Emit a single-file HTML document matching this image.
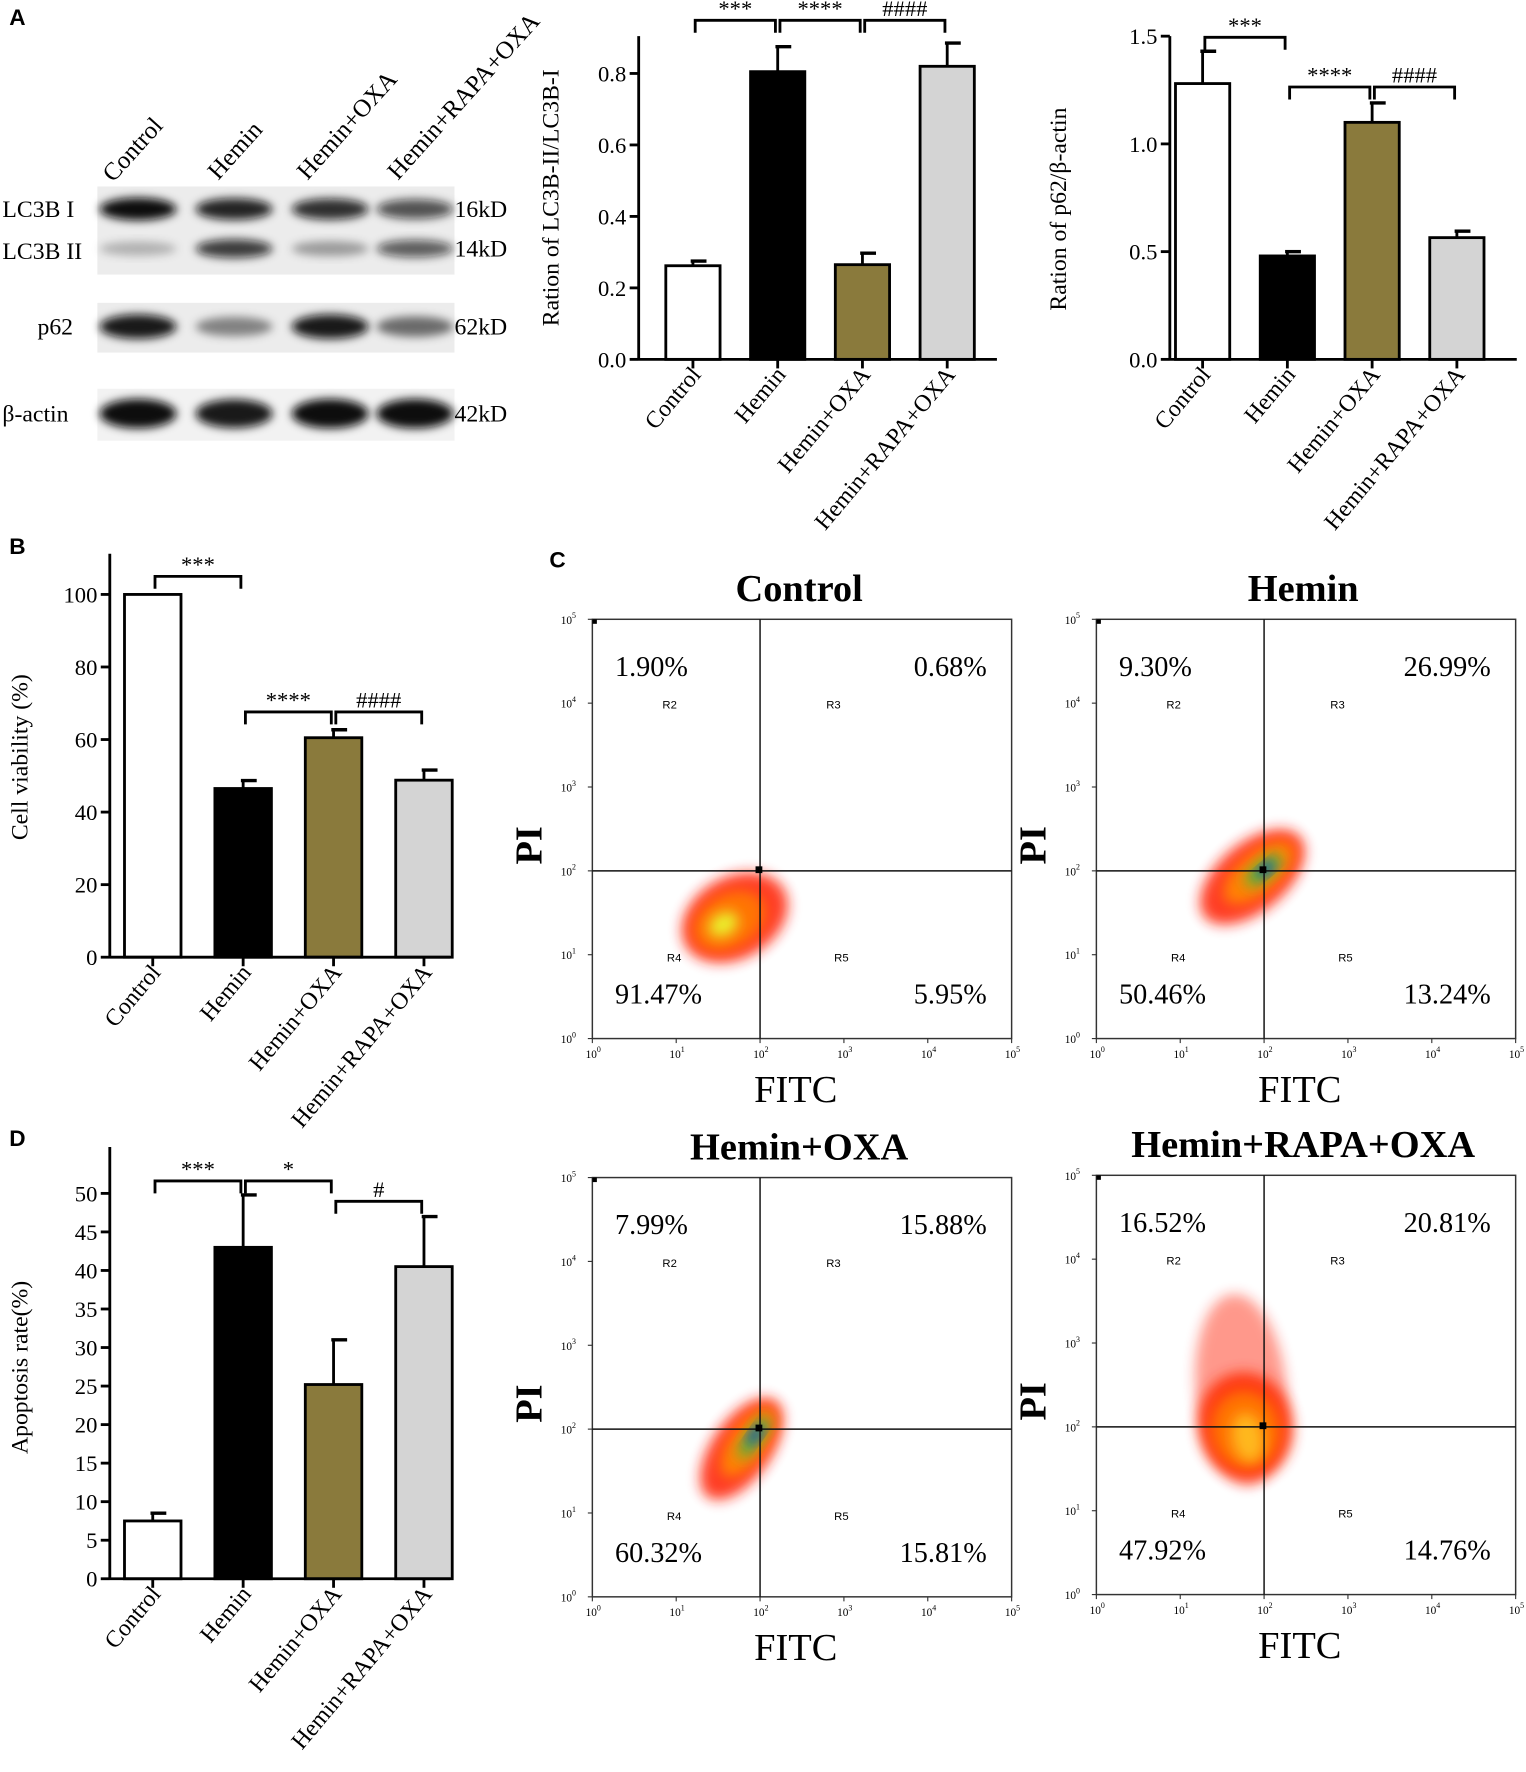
<!DOCTYPE html>
<html><head><meta charset="utf-8"><style>
html,body{margin:0;padding:0;background:#fff}
svg{display:block}
text{font-family:"Liberation Serif",serif;fill:#000}
.sans{font-family:"Liberation Sans",sans-serif;font-weight:bold}
</style></head><body>
<svg id="fig" width="1526" height="1772" viewBox="0 0 1350 1568" xmlns="http://www.w3.org/2000/svg">
<defs>
<filter id="blur" x="-50%" y="-50%" width="200%" height="200%"><feGaussianBlur stdDeviation="4"/></filter>
<filter id="blur2" x="-50%" y="-50%" width="200%" height="200%"><feGaussianBlur stdDeviation="6"/></filter>
</defs>
<g id="root"></g>
</svg>
<script>
// ---- data ----
const groups = ["Control","Hemin","Hemin+OXA","Hemin+RAPA+OXA"];
const lc3Values = [0.262,0.805,0.265,0.82];
const lc3Errors = [0.013,0.07,0.032,0.065];
const lc3Ticks = [0,0.2,0.4,0.6,0.8];
const p62Values = [1.28,0.48,1.10,0.565];
const p62Errors = [0.15,0.02,0.09,0.03];
const p62Ticks = [0,0.5,1.0,1.5];
const viabValues = [100,46.5,60.5,48.8];
const viabErrors = [0,2.2,2.2,2.8];
const viabTicks = [0,20,40,60,80,100];
const apopValues = [7.5,43,25.2,40.5];
const apopErrors = [1,6.8,5.8,6.5];
const apopTicks = [0,5,10,15,20,25,30,35,40,45,50];
const barColors = ["#ffffff","#000000","#8a7a3c","#d4d4d4"];
const flowTitles = ["Control","Hemin","Hemin+OXA","Hemin+RAPA+OXA"];
const flowUL = ["1.90%","9.30%","7.99%","16.52%"];
const flowUR = ["0.68%","26.99%","15.88%","20.81%"];
const flowLL = ["91.47%","50.46%","60.32%","47.92%"];
const flowLR = ["5.95%","13.24%","15.81%","14.76%"];

const NS="http://www.w3.org/2000/svg";
const root=document.getElementById('root');
function mk(tag,attrs,parent,txt){const e=document.createElementNS(NS,tag);for(const k in attrs)e.setAttribute(k,attrs[k]);if(txt!==undefined)e.textContent=txt;(parent||root).appendChild(e);return e;}

[["A",8,22],["B",8,490],["C",486,502],["D",8,1014]].forEach(l=>{
  const t=mk('text',{x:l[1],y:l[2],class:'sans','font-size':20},root,l[0]);
  
  
});

// ---- western blot ----
(function(){
  const g=mk('g',{});
  
  
  const lanes=[122,207,292,367];
  const laneLab=[[100,162],[193,160],[272,160],[352,160]];
  groups.forEach((n,i)=>{const t=mk('text',{x:laneLab[i][0],y:laneLab[i][1],'font-size':22,transform:`rotate(-48 ${laneLab[i][0]} ${laneLab[i][1]})`},g,n);
    });
  mk('rect',{x:86,y:165,width:316,height:78,fill:'#ececec'},g);
  mk('rect',{x:86,y:268,width:316,height:44,fill:'#ececec'},g);
  mk('rect',{x:86,y:344,width:316,height:46,fill:'#f2f2f2'},g);
  const rows=[[185,[1,0.9,0.85,0.7],10],[220,[0.25,0.8,0.35,0.65],9],[289,[0.95,0.45,0.95,0.55],11],[366,[1,0.95,1,1],13]];
  rows.forEach(r=>lanes.forEach((x,i)=>{const a=r[1][i];mk('ellipse',{cx:x,cy:r[0],rx:34,ry:r[2]*(0.6+0.4*a),fill:`rgba(10,10,10,${a})`,filter:'url(#blur)'},g);}));
  [["LC3B I",2,192],["LC3B II",2,229],["p62",33,296],["β-actin",2,373]].forEach(l=>mk('text',{x:l[1],y:l[2],'font-size':21},g,l[0]));
  [["16kD",192],["14kD",227],["62kD",296],["42kD",373]].forEach(l=>mk('text',{x:402,y:l[1],'font-size':21},g,l[0]));
})();

function barChart(o){
  const g=mk('g',{});
  
  
  const y=v=>o.y0-(v-0)*(o.y0-o.yTopVal)/o.topVal;
  const x=i=>o.x0+i*o.step;
  o.values.forEach((v,i)=>{
    const r=mk('rect',{x:x(i)-o.bw/2,y:y(v),width:o.bw,height:o.y0-y(v),fill:barColors[i],stroke:'#000','stroke-width':2.5},g);
    
    
    const e=o.errors[i];
    if(e>0){
      mk('line',{x1:x(i),x2:x(i),y1:y(v),y2:y(v+e),stroke:'#000','stroke-width':2.5},g);
      mk('line',{x1:x(i)-2,x2:x(i)+12,y1:y(v+e),y2:y(v+e),stroke:'#000','stroke-width':3},g);
    }
  });
  const ya=mk('line',{x1:o.ax,x2:o.ax,y1:o.axTop,y2:o.y0+1,stroke:'#000','stroke-width':2.5},g);
  
  const xa=mk('line',{x1:o.ax,x2:o.axRight,y1:o.y0,y2:o.y0,stroke:'#000','stroke-width':2.5},g);
  
  o.ticks.forEach(t=>{
    mk('line',{x1:o.ax-8,x2:o.ax,y1:y(t),y2:y(t),stroke:'#000','stroke-width':2.5},g);
    const tl=mk('text',{x:o.ax-11,y:y(t)+7,'text-anchor':'end','font-size':20},g,o.fmt(t));
    
  });
  groups.forEach((n,i)=>{
    mk('line',{x1:x(i),x2:x(i),y1:o.y0,y2:o.y0+8,stroke:'#000','stroke-width':2.5},g);
    const lx=x(i)+8,ly=o.y0+14;
    const tl=mk('text',{x:lx,y:ly,'text-anchor':'end','font-size':21,transform:`rotate(-50 ${lx} ${ly})`},g,n);
    
  });
  const tt=mk('text',{x:o.titleX,y:o.titleY,'text-anchor':'middle','font-size':21,transform:`rotate(-90 ${o.titleX} ${o.titleY})`},g,o.title);
  
  o.brackets.forEach(b=>{
    const x1=x(b[0])+2,x2=x(b[1])-2,by=b[2];
    mk('path',{d:`M${x1} ${by+11}V${by}H${x2}V${by+11}`,fill:'none',stroke:'#000','stroke-width':2.5},g);
    const st=mk('text',{x:(x1+x2)/2,y:by-4,'text-anchor':'middle','font-size':20},g,b[3]);
    
  });
}
barChart({name:'lc3b-ratio-chart',values:lc3Values,errors:lc3Errors,ticks:lc3Ticks,fmt:t=>t.toFixed(1),
  x0:613,step:75,bw:48,ax:565,axTop:32,axRight:882,y0:318,topVal:0.8,yTopVal:65,
  title:'Ration of LC3B-II/LC3B-I',titleX:494,titleY:175,
  brackets:[[0,1,18,'***'],[1,2,18,'****'],[2,3,18,'####']]});
barChart({name:'p62-ratio-chart',values:p62Values,errors:p62Errors,ticks:p62Ticks,fmt:t=>t.toFixed(1),
  x0:1064,step:75,bw:48,ax:1035,axTop:32,axRight:1342,y0:318,topVal:1.5,yTopVal:32,
  title:'Ration of p62/β-actin',titleX:943,titleY:185,
  brackets:[[0,1,33,'***'],[1,2,77,'****'],[2,3,77,'####']]});
barChart({name:'cell-viability-chart',values:viabValues,errors:viabErrors,ticks:viabTicks,fmt:t=>String(t),
  x0:135,step:80,bw:50,ax:97,axTop:490,axRight:398,y0:847,topVal:100,yTopVal:526,
  title:'Cell viability (%)',titleX:24,titleY:670,
  brackets:[[0,1,510,'***'],[1,2,630,'****'],[2,3,630,'####']]});
barChart({name:'apoptosis-rate-chart',values:apopValues,errors:apopErrors,ticks:apopTicks,fmt:t=>String(t),
  x0:135,step:80,bw:50,ax:97,axTop:1015,axRight:398,y0:1397,topVal:50,yTopVal:1056,
  title:'Apoptosis rate(%)',titleX:24,titleY:1210,
  brackets:[[0,1,1045,'***'],[1,2,1045,'*'],[2,3,1063,'#']]});

const flowPos=[[524,548],[970,548],[524,1042],[970,1040]];
const clouds=[
 [[650,812,50,36,-30,'#ff1a00',0.85],[645,815,34,24,-30,'#ff7a00',0.9],[640,818,14,10,-30,'#e8ff30',0.9]],
 [[1108,776,55,30,-40,'#ff1a00',0.85],[1114,772,38,18,-40,'#ff8a00',0.9],[1118,770,20,8,-40,'#40c040',0.9],[1120,769,9,4,-40,'#1030d0',1]],
 [[656,1282,52,26,-55,'#ff1a00',0.85],[662,1276,36,16,-55,'#ff8a00',0.9],[667,1272,22,7,-55,'#40c040',0.9],[668,1270,10,4,-55,'#1030d0',1]],
 [[1098,1230,40,85,-5,'#ff1a00',0.45],[1102,1262,42,48,-10,'#ff2a00',0.85],[1102,1265,30,34,-10,'#ff7a00',0.9],[1104,1272,14,22,-10,'#ffc020',0.9]]
];
flowTitles.forEach((t,k)=>{
  const [bx,by]=flowPos[k];const W=371,D=W/5;
  const g=mk('g',{});
  
  
  const tt=mk('text',{x:bx+183,y:by-16,'text-anchor':'middle','font-size':34,'font-weight':'bold'},g,t);
  
  clouds[k].forEach(c=>mk('ellipse',{cx:c[0],cy:c[1],rx:c[2],ry:c[3],fill:c[5],opacity:c[6],transform:`rotate(${c[4]} ${c[0]} ${c[1]})`,filter:'url(#blur2)'},g));
  mk('rect',{x:bx,y:by,width:W,height:W,fill:'none',stroke:'#333','stroke-width':1.3},g);
  mk('line',{x1:bx+2*D,x2:bx+2*D,y1:by,y2:by+W,stroke:'#111','stroke-width':1.3},g);
  mk('line',{x1:bx,x2:bx+W,y1:by+3*D,y2:by+3*D,stroke:'#111','stroke-width':1.3},g);
  mk('rect',{x:bx+2*D-4,y:by+3*D-4,width:6,height:6,fill:'#000'},g);
  mk('rect',{x:bx,y:by,width:4,height:4,fill:'#000'},g);
  for(let i=0;i<=5;i++){
    mk('line',{x1:bx+i*D,x2:bx+i*D,y1:by+W,y2:by+W+4,stroke:'#333'},g);
    const a=mk('text',{x:bx+i*D-6,y:by+W+17,'font-size':10},g,'10');mk('tspan',{dy:-5,'font-size':7},a,String(i));
    mk('line',{x1:bx-4,x2:bx,y1:by+W-i*D,y2:by+W-i*D,stroke:'#333'},g);
    const b=mk('text',{x:bx-28,y:by+W-i*D+4,'font-size':10},g,'10');mk('tspan',{dy:-5,'font-size':7},b,String(i));
  }
  [[flowUL[k],bx+20,by+50,'start'],[flowUR[k],bx+W-22,by+50,'end'],[flowLL[k],bx+20,by+340,'start'],[flowLR[k],bx+W-22,by+340,'end']].forEach(p=>{
    const q=mk('text',{x:p[1],y:p[2],'text-anchor':p[3],'font-size':25},g,p[0]);
    
  });
  [["R2",bx+62,by+79],["R3",bx+207,by+79],["R4",bx+66,by+303],["R5",bx+214,by+303]].forEach(r=>mk('text',{x:r[1],y:r[2],'font-size':10,style:'font-family:"Liberation Sans",sans-serif'},g,r[0]));
  const px=bx-45,py=by+200;
  const pl=mk('text',{x:px,y:py,'text-anchor':'middle','font-size':34,'font-weight':'bold',transform:`rotate(-90 ${px} ${py})`},g,'PI');
  
  const fl=mk('text',{x:bx+180,y:by+W+56,'text-anchor':'middle','font-size':34},g,'FITC');
  
});
</script>
</body></html>
